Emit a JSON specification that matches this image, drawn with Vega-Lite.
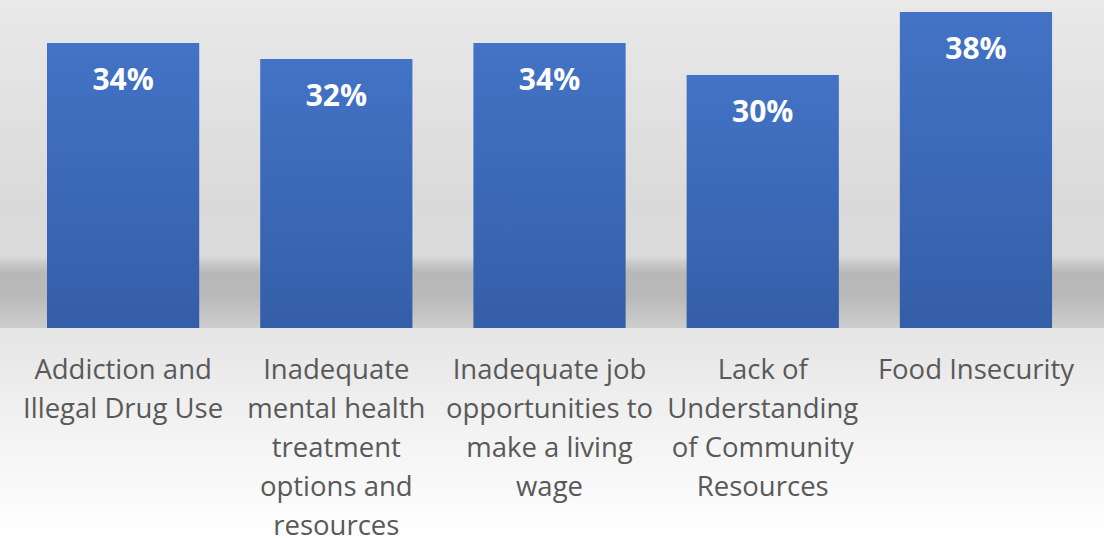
{
  "$schema": "https://vega.github.io/schema/vega-lite/v6.json",
  "width": 1104,
  "height": 539,
  "autosize": {"type": "none"},
  "padding": 0,
  "background": "#ffffff",
  "config": {"view": {"stroke": null}},
  "data": {
    "values": [
      {"category": "Addiction and|Illegal Drug Use", "value": 0.3427},
      {"category": "Inadequate|mental health|treatment|options and|resources", "value": 0.3235},
      {"category": "Inadequate job|opportunities to|make a living|wage", "value": 0.3427},
      {"category": "Lack of|Understanding|of Community|Resources", "value": 0.3042},
      {"category": "Food Insecurity", "value": 0.38}
    ]
  },
  "layer": [
    {
      "mark": {
        "type": "rect",
        "fill": {
          "gradient": "linear", "x1": 0, "y1": 0, "x2": 0, "y2": 1,
          "stops": [
            {"offset": 0, "color": "#e9e9e9"},
            {"offset": 0.371, "color": "#dadada"},
            {"offset": 0.475, "color": "#dbdbdb"},
            {"offset": 0.487, "color": "#cbcbcb"},
            {"offset": 0.506, "color": "#b8b8b8"},
            {"offset": 0.55, "color": "#b9b9b9"},
            {"offset": 0.608, "color": "#cdcdcd"},
            {"offset": 0.6086, "color": "#e6e6e6"},
            {"offset": 0.625, "color": "#e6e6e6"},
            {"offset": 0.8, "color": "#f3f3f3"},
            {"offset": 1, "color": "#ffffff"}
          ]
        }
      },
      "encoding": {
        "x": {"value": 0},
        "x2": {"value": "width"},
        "y": {"value": 0},
        "y2": {"value": "height"}
      }
    },
    {
      "mark": {
        "type": "bar",
        "fill": {
          "gradient": "linear", "x1": 0, "y1": 0, "x2": 0, "y2": 1,
          "stops": [
            {"offset": 0, "color": "#4373c6"},
            {"offset": 1, "color": "#345ea7"}
          ]
        }
      },
      "encoding": {
        "x": {
          "field": "category", "type": "nominal", "sort": null,
          "scale": {"paddingInner": 0.286, "paddingOuter": 0.232, "align": 0.475},
          "axis": {
            "title": null, "domain": false, "ticks": false, "grid": false,
            "labelAngle": 0, "offset": -211,
            "labelExpr": "split(datum.label, '|')",
            "labelFont": "Open Sans", "labelFontSize": 27.5, "labelColor": "#595959",
            "labelLineHeight": 39, "labelBaseline": "alphabetic", "labelPadding": 50,
            "labelLimit": 400, "labelOverlap": false, "zindex": 2
          }
        },
        "y": {"field": "value", "type": "quantitative", "axis": null, "scale": {"domain": [-0.2537, 0.3944], "nice": false}}
      }
    },
    {
      "mark": {
        "type": "text", "align": "center", "baseline": "alphabetic", "dy": 47,
        "font": "Open Sans", "fontWeight": "bold", "fontSize": 30, "fill": "#ffffff"
      },
      "encoding": {
        "x": {"field": "category", "type": "nominal", "sort": null},
        "y": {"field": "value", "type": "quantitative"},
        "text": {"field": "value", "type": "quantitative", "format": ".0%"}
      }
    }
  ]
}
